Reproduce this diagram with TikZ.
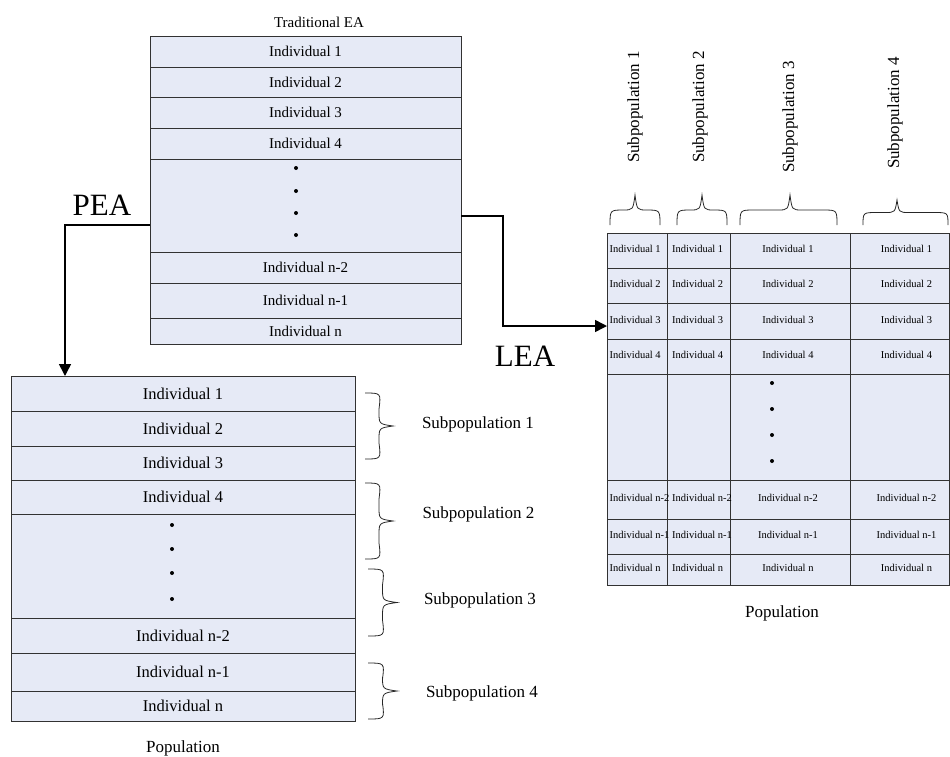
\documentclass[tikz,border=0pt]{standalone}
\usepackage{fontspec}
\setmainfont{Liberation Serif}
\usetikzlibrary{arrows.meta}

\definecolor{cellfill}{RGB}{230,234,246}
\definecolor{linec}{RGB}{50,50,50}

% right-pointing curly brace: x0, ytop, ybottom, xtip
\newcommand\sideBrace[4]{%
  \draw[brc] (#1,#2) .. controls ({(#1+#4)/2+2},#2) .. ({(#1+#4)/2},{#2+16})
    -- ({(#1+#4)/2},{(#2+#3)/2-14}) .. controls ({(#1+#4)/2},{(#2+#3)/2-2}) .. (#4,{(#2+#3)/2})
    .. controls ({(#1+#4)/2},{(#2+#3)/2+2}) .. ({(#1+#4)/2},{(#2+#3)/2+14})
    -- ({(#1+#4)/2},{#3-16}) .. controls ({(#1+#4)/2+2},#3) .. (#1,#3);}
% upward curly brace: xleft, xright, ybottom, ytip, xtip
\newcommand\topBrace[5]{%
  \draw[brc] (#1,#3) .. controls (#1,{(#3+#4)/2}) .. ({#1+14},{(#3+#4)/2})
    -- ({#5-12},{(#3+#4)/2}) .. controls ({#5-2},{(#3+#4)/2}) .. (#5,#4)
    .. controls ({#5+2},{(#3+#4)/2}) .. ({#5+12},{(#3+#4)/2})
    -- ({#2-14},{(#3+#4)/2}) .. controls (#2,{(#3+#4)/2}) .. (#2,#3);}

\tikzset{
  cell/.style={draw=linec, fill=cellfill, line width=0.8pt, inner sep=0pt, outer sep=0pt},
  bigtxt/.style={font=\fontsize{16.5}{19}\selectfont},
  toptxt/.style={font=\fontsize{15}{18}\selectfont},
  gtxt/.style={font=\fontsize{10.5}{12}\selectfont, inner sep=0pt},
  lbl/.style={font=\fontsize{17}{20}\selectfont},
  huge/.style={font=\fontsize{31}{34}\selectfont},
  brc/.style={draw=black!85, line width=0.8pt},
  conn/.style={draw=black, line width=1.5pt, -{Triangle[length=12pt,width=12pt]}},
  dotc/.style={fill=black, draw=none},
}

\begin{document}
\begin{tikzpicture}[x=1pt,y=-1pt]
\useasboundingbox (0,0) rectangle (950,756);

% ---- traditional EA population ----
\node[toptxt] (title) at (319,22) {Traditional EA};
\foreach \nm/\ya/\yb/\txt in {t1/36/67/Individual 1, t2/67/97/Individual 2,
    t3/97/128/Individual 3, t4/128/159/Individual 4, tdots/159/252/{},
    tn2/252/283/Individual n-2, tn1/283/318/Individual n-1, tn/318/344/Individual n}{
  \pgfmathsetmacro\hh{\yb-\ya}
  \node[cell, toptxt, minimum width=311pt, minimum height=\hh pt] (\nm)
    at (305.5,{(\ya+\yb)/2}) {\txt};
}
\foreach \yy in {168,191,213,235} \fill[dotc] (296,\yy) circle (2pt);

% ---- parallel EA population ----
\foreach \nm/\ya/\yb/\txt in {p1/376/411/Individual 1, p2/411/446/Individual 2,
    p3/446/480/Individual 3, p4/480/514/Individual 4, pdots/514/618/{},
    pn2/618/653/Individual n-2, pn1/653/691/Individual n-1, pn/691/721/Individual n}{
  \pgfmathsetmacro\hh{\yb-\ya}
  \node[cell, bigtxt, minimum width=344pt, minimum height=\hh pt] (\nm)
    at (183,{(\ya+\yb)/2}) {\txt};
}
\foreach \yy in {525,549,573,599} \fill[dotc] (172,\yy) circle (2pt);
\node[lbl] (ppop) at (183,748) {Population};

\sideBrace{365}{393}{459}{393}
\sideBrace{365}{483}{559}{393}
\sideBrace{368}{569}{636}{397}
\sideBrace{368}{663}{719}{397}
\node[lbl] (ps1) at (478,424) {Subpopulation 1};
\node[lbl] (ps2) at (478.5,514) {Subpopulation 2};
\node[lbl] (ps3) at (480,600) {Subpopulation 3};
\node[lbl] (ps4) at (482,693) {Subpopulation 4};

% ---- local EA grid ----
\foreach \c/\xa/\xb in {1/607/667, 2/667/730, 3/730/850, 4/850/949}{
  \foreach \r/\ya/\yb in {1/233/268, 2/268/303, 3/303/339, 4/339/374,
      5/374/480, 6/480/519, 7/519/554, 8/554/585}{
    \pgfmathsetmacro\ww{\xb-\xa}
    \pgfmathsetmacro\hh{\yb-\ya}
    \node[cell, minimum width=\ww pt, minimum height=\hh pt] (g\c\r)
      at ({(\xa+\xb)/2},{(\ya+\yb)/2}) {};
  }
}
\foreach \r/\txt in {1/Individual 1, 2/Individual 2, 3/Individual 3, 4/Individual 4,
    6/Individual n-2, 7/Individual n-1, 8/Individual n}{
  \node[gtxt, anchor=west] at ([xshift=2.5pt,yshift=1.5pt]g1\r.west) {\txt};
  \node[gtxt, anchor=west] at ([xshift=5pt,yshift=1.5pt]g2\r.west) {\txt};
  \node[gtxt] at ([xshift=-2pt,yshift=1.5pt]g3\r.center) {\txt};
  \node[gtxt] at ([xshift=7pt,yshift=1.5pt]g4\r.center) {\txt};
}
\foreach \yy in {383,409,435,461} \fill[dotc] (772,\yy) circle (2pt);
\node[lbl] (gpop) at (782,613) {Population};

\topBrace{610}{660}{225}{195}{635}
\topBrace{677}{727}{225}{195}{702}
\topBrace{740}{837}{225}{195}{790}
\topBrace{863}{948}{225}{200}{897}
\node[lbl, rotate=90] (gs1) at (635,107) {Subpopulation 1};
\node[lbl, rotate=90] (gs2) at (700,107) {Subpopulation 2};
\node[lbl, rotate=90] (gs3) at (790,117) {Subpopulation 3};
\node[lbl, rotate=90] (gs4) at (895,113) {Subpopulation 4};

% ---- connectors ----
\coordinate (peaTurn) at (65,225);
\coordinate (leaTurn) at (503,216);
\draw[conn] (tdots.west |- peaTurn) -- (peaTurn) -- (peaTurn |- p1.north);
\draw[conn] (tdots.east |- leaTurn) -- (leaTurn) -- (leaTurn |- 0,326) -- (g13.west |- 0,326);
\node[huge] (pea) at (102,205) {PEA};
\node[huge] (lea) at (525,356) {LEA};
\end{tikzpicture}
\end{document}
